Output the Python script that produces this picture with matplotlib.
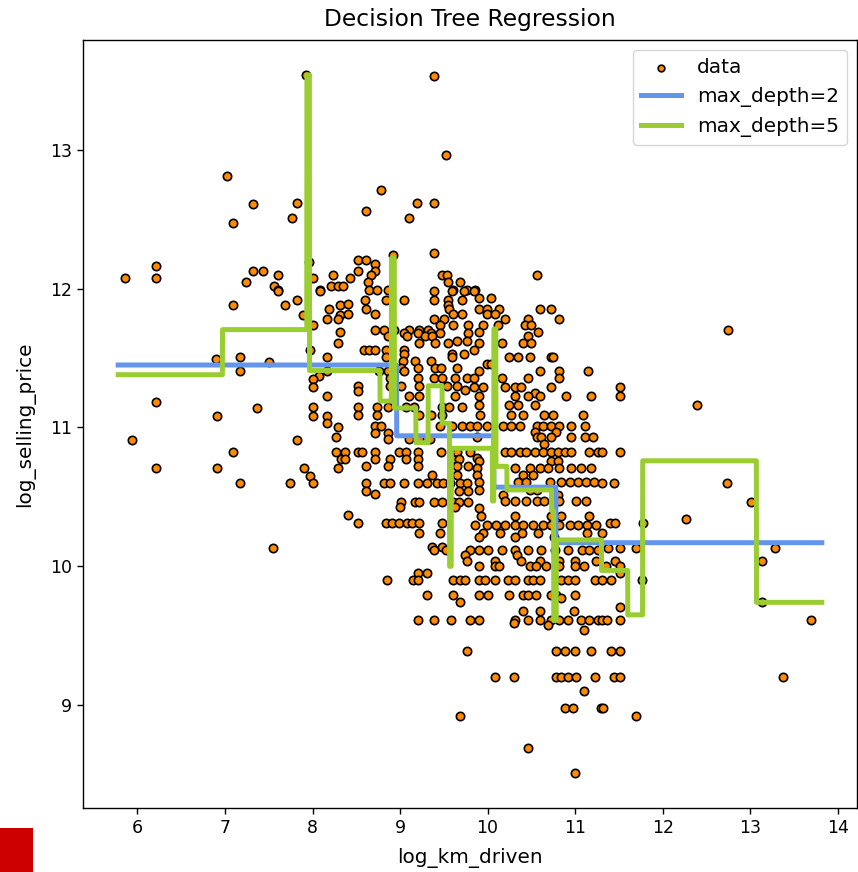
import numpy as np
import matplotlib
matplotlib.use("Agg")
import matplotlib.pyplot as plt
from matplotlib.patches import Rectangle

# scatter data (log km driven, log selling price)
log_km_driven = [
    7.93, 7.02, 7.32, 7.09, 7.82, 7.77, 5.86, 6.21, 6.21, 7.24, 7.32, 7.44, 7.60, 7.56, 7.61, 7.96, 8.01, 8.23, 8.08, 8.21, 8.29,
    7.09, 7.60, 7.69, 7.82, 7.89, 8.08, 8.19, 8.31, 8.31, 8.16, 8.29, 8.01, 8.31, 8.29, 7.97, 8.16, 6.90, 7.17, 7.50, 7.17,
    8.07, 8.16, 8.01, 8.01, 6.21, 7.37, 8.16, 8.01, 6.91, 8.01, 8.16, 8.16, 8.29, 8.27, 5.94, 7.82, 7.09, 8.27, 8.33, 6.21,
    6.91, 7.90, 8.29, 7.97, 7.17, 7.74, 8.01, 7.55,
    9.39, 9.52, 8.78, 8.61, 9.19, 9.39, 9.10, 9.39, 8.92, 8.52, 8.61, 8.71, 8.52, 8.71, 8.67, 8.43, 8.63, 9.48, 9.54, 9.55,
    9.68, 10.57, 8.35, 8.65, 8.74, 8.86, 9.61, 9.76, 9.86,
    9.39, 9.59, 9.73, 8.60, 8.84, 9.04, 9.39, 9.55, 9.71, 8.40, 9.55, 8.61, 9.56, 8.40, 8.71, 9.61, 9.71, 9.39, 9.50, 9.46,
    9.61, 9.78, 8.71, 8.82, 8.93, 9.10, 9.22, 9.32, 9.05, 9.21, 9.35, 9.46, 9.78, 8.86, 9.08, 9.28, 9.37, 9.65, 9.76, 9.22,
    9.40, 9.55, 8.59, 8.65, 8.71, 8.84, 9.05, 9.05, 9.59, 9.73, 8.84, 9.59, 9.03, 9.17, 9.35, 9.01, 9.21, 9.40, 9.47, 9.65,
    8.76, 8.86, 9.04, 8.88, 9.21, 9.39, 9.48, 9.63, 9.76, 8.52, 8.88, 9.01, 9.22, 9.54, 9.65, 8.52, 9.74, 9.10, 9.22, 9.63,
    8.52, 8.74, 8.86, 9.07, 9.16, 9.48, 9.56, 9.71, 8.52, 8.74, 9.22, 9.35, 9.48,
    9.85, 9.90, 10.04, 9.90, 9.99, 10.13, 10.60, 10.72, 9.99, 10.08, 10.20, 10.46, 10.81, 9.95, 10.12, 10.43, 10.50, 9.90,
    10.58, 10.46, 9.90, 10.16, 10.41, 10.50, 9.84, 10.24, 10.35, 10.49, 10.72, 10.75, 9.99, 10.04, 9.90, 10.60, 10.81, 11.15,
    9.84, 10.17, 10.46, 10.82, 9.84, 9.95, 10.20, 10.31, 10.38, 10.73, 10.54, 9.90, 10.31, 10.46, 10.60, 10.90, 11.18, 9.90,
    10.24, 10.35, 10.54, 9.91, 10.27, 10.41, 10.65, 10.75, 11.09,
    8.71, 8.78, 9.46, 9.59, 9.71, 9.80, 8.71, 8.86, 8.86, 9.10, 9.22, 9.34, 8.37, 8.52, 8.57, 8.71, 8.99, 9.07, 9.21, 9.47,
    9.65, 9.80, 8.37, 8.71, 8.88, 9.07, 9.21, 9.59, 9.67, 8.61, 8.86, 9.20, 9.65, 9.78, 9.37, 9.65, 8.61, 8.82, 8.89, 9.05,
    9.20, 9.31, 9.42, 9.49, 9.57, 9.69, 9.77, 8.61, 9.67, 9.78, 8.71, 9.01, 9.17, 9.22, 9.39, 9.48, 9.61, 9.67, 9.78, 9.00,
    9.63, 8.40, 8.52, 8.84, 8.91, 8.99, 9.08, 9.14, 9.22, 9.48, 9.22, 9.46, 9.37, 9.48,
    9.88, 9.99, 10.18, 10.27, 10.37, 10.56, 10.63, 10.73, 10.82, 10.95, 11.11, 10.54, 10.78, 9.88, 10.56, 10.61, 10.73, 10.95,
    11.11, 11.20, 10.65, 10.20, 10.27, 10.37, 10.44, 10.54, 10.63, 10.73, 10.80, 10.88, 10.95, 11.16, 11.26, 9.88, 9.90, 10.73,
    10.80, 9.88, 10.31, 10.48, 10.60, 10.69, 10.82, 10.95, 11.07, 11.18, 9.88, 10.41, 10.52, 9.90, 10.35, 10.44, 10.71, 10.84,
    10.94, 11.03, 11.12, 11.22, 9.90, 10.48, 10.56, 10.18, 10.80, 10.20, 10.31, 10.44, 10.56, 10.65, 10.82, 11.01, 11.12, 9.90,
    9.93, 10.31, 10.73, 10.84, 11.16, 9.86, 9.99, 10.10, 10.20, 10.31, 10.41, 10.52, 10.63, 10.73, 10.82, 10.94, 11.03, 11.14,
    11.24, 9.95, 10.14, 10.39, 10.58, 11.14, 9.90, 10.31, 10.76,
    9.39, 9.52, 9.80, 9.90, 10.00, 10.16, 10.31, 10.46, 10.61, 10.77, 10.92, 11.08, 11.16, 11.26, 9.74, 10.34, 9.76, 10.08,
    10.38, 10.60, 10.82, 11.00, 11.24, 9.90, 10.08, 10.13, 10.49, 10.55, 10.67, 10.82, 11.00, 11.10, 9.21, 9.31, 8.85, 9.15,
    9.21, 9.61, 9.68, 9.74, 9.90, 9.97, 10.08, 10.23, 10.31, 10.46, 10.52, 10.60, 10.84, 10.92, 11.00, 11.23, 9.31, 9.61,
    9.90, 10.00, 10.24, 10.41, 10.46, 10.55, 10.72, 10.78, 11.00, 9.68, 10.84, 10.41, 10.60, 10.99, 9.21, 9.39, 9.58, 9.80,
    9.90, 10.31, 10.46, 10.60, 10.73, 10.82, 10.92, 11.07, 11.16, 11.26, 10.30, 10.69, 11.10, 9.77, 10.78, 10.88, 11.00, 11.18,
    10.08, 10.30, 10.78, 10.84, 10.92, 11.01, 11.23, 11.10, 10.88, 10.97, 11.29, 9.68, 10.46, 11.00,
    12.75, 11.51, 11.51, 12.39, 11.31, 11.51, 11.31, 11.44, 12.73, 13.01, 12.27, 11.40, 11.45, 11.77, 11.31, 11.37, 11.51,
    11.69, 13.28, 13.13, 11.46, 11.35, 11.51, 11.51, 11.31, 11.41, 11.76, 11.51, 11.31, 11.36, 11.51, 13.13, 13.69, 11.41,
    11.51, 11.44, 11.51, 13.38, 11.32, 11.69,
]
log_selling_price = [
    13.54, 12.81, 12.61, 12.47, 12.62, 12.51, 12.08, 12.16, 12.08, 12.05, 12.13, 12.13, 12.10, 12.02, 11.99, 12.19, 12.08, 12.10, 11.99, 12.02, 12.02,
    11.88, 11.98, 11.88, 11.92, 11.81, 11.98, 11.85, 11.88, 11.81, 11.78, 11.78, 11.74, 11.69, 11.61, 11.56, 11.51, 11.49, 11.51, 11.47, 11.41,
    11.37, 11.41, 11.35, 11.29, 11.18, 11.14, 11.23, 11.15, 11.08, 11.08, 11.08, 11.03, 11.00, 10.93, 10.91, 10.91, 10.82, 10.82, 10.77, 10.71,
    10.71, 10.71, 10.71, 10.65, 10.60, 10.60, 10.60, 10.13,
    13.53, 12.96, 12.71, 12.56, 12.62, 12.62, 12.51, 12.26, 12.24, 12.21, 12.21, 12.18, 12.13, 12.13, 12.10, 12.08, 12.05, 12.10, 12.10, 12.05,
    12.05, 12.10, 12.02, 11.99, 11.99, 11.99, 11.99, 11.99, 11.99,
    11.98, 11.98, 11.98, 11.92, 11.92, 11.92, 11.92, 11.92, 11.92, 11.89, 11.88, 11.85, 11.85, 11.82, 11.82, 11.82, 11.82, 11.78, 11.78, 11.74,
    11.74, 11.74, 11.70, 11.70, 11.70, 11.70, 11.70, 11.70, 11.68, 11.68, 11.68, 11.68, 11.68, 11.66, 11.66, 11.66, 11.66, 11.62, 11.62, 11.61,
    11.61, 11.61, 11.56, 11.56, 11.56, 11.56, 11.56, 11.53, 11.53, 11.53, 11.51, 11.51, 11.48, 11.48, 11.48, 11.43, 11.43, 11.43, 11.43, 11.43,
    11.41, 11.41, 11.41, 11.36, 11.36, 11.36, 11.36, 11.36, 11.36, 11.30, 11.30, 11.30, 11.30, 11.30, 11.30, 11.26, 11.27, 11.23, 11.23, 11.23,
    11.15, 11.15, 11.15, 11.15, 11.15, 11.15, 11.15, 11.15, 11.09, 11.09, 11.09, 11.09, 11.09,
    11.98, 11.93, 11.93, 11.85, 11.85, 11.85, 11.85, 11.85, 11.82, 11.82, 11.78, 11.78, 11.78, 11.74, 11.74, 11.74, 11.74, 11.69,
    11.69, 11.66, 11.61, 11.61, 11.61, 11.61, 11.56, 11.51, 11.51, 11.51, 11.51, 11.51, 11.46, 11.46, 11.41, 11.41, 11.41, 11.41,
    11.36, 11.36, 11.36, 11.36, 11.29, 11.29, 11.29, 11.29, 11.29, 11.29, 11.25, 11.23, 11.23, 11.23, 11.23, 11.23, 11.23, 11.16,
    11.16, 11.16, 11.16, 11.09, 11.09, 11.09, 11.09, 11.09, 11.09,
    11.01, 11.01, 11.01, 11.01, 11.01, 11.01, 10.96, 10.96, 10.92, 10.92, 10.92, 10.92, 10.82, 10.82, 10.82, 10.82, 10.82, 10.82, 10.82, 10.82,
    10.82, 10.82, 10.77, 10.77, 10.77, 10.77, 10.77, 10.77, 10.77, 10.72, 10.72, 10.72, 10.72, 10.72, 10.66, 10.66, 10.60, 10.60, 10.60, 10.60,
    10.60, 10.60, 10.60, 10.60, 10.60, 10.60, 10.60, 10.54, 10.54, 10.54, 10.52, 10.46, 10.46, 10.46, 10.46, 10.46, 10.46, 10.46, 10.46, 10.43,
    10.43, 10.37, 10.31, 10.31, 10.31, 10.31, 10.31, 10.31, 10.31, 10.31, 10.24, 10.24, 10.14, 10.14,
    11.01, 11.01, 11.01, 11.01, 11.01, 11.01, 11.01, 11.01, 11.01, 11.01, 11.01, 10.97, 10.97, 10.93, 10.93, 10.93, 10.93, 10.93,
    10.93, 10.93, 10.88, 10.82, 10.82, 10.82, 10.82, 10.82, 10.82, 10.82, 10.82, 10.82, 10.82, 10.82, 10.82, 10.78, 10.76, 10.76,
    10.76, 10.71, 10.71, 10.71, 10.71, 10.71, 10.71, 10.71, 10.71, 10.71, 10.66, 10.66, 10.66, 10.61, 10.61, 10.61, 10.61, 10.61,
    10.61, 10.61, 10.61, 10.61, 10.55, 10.55, 10.55, 10.51, 10.51, 10.47, 10.47, 10.47, 10.47, 10.47, 10.47, 10.47, 10.47, 10.42,
    10.36, 10.36, 10.36, 10.36, 10.36, 10.30, 10.30, 10.30, 10.30, 10.30, 10.30, 10.30, 10.30, 10.30, 10.30, 10.30, 10.30, 10.30,
    10.30, 10.24, 10.24, 10.24, 10.24, 10.24, 10.21, 10.21, 10.21,
    10.12, 10.12, 10.12, 10.12, 10.12, 10.12, 10.12, 10.12, 10.12, 10.12, 10.12, 10.12, 10.12, 10.12, 10.08, 10.08, 10.04, 10.04,
    10.04, 10.04, 10.04, 10.04, 10.04, 10.00, 10.00, 10.00, 10.00, 10.00, 10.00, 10.00, 10.00, 10.00, 9.95, 9.95, 9.90, 9.90,
    9.90, 9.90, 9.90, 9.90, 9.90, 9.90, 9.90, 9.90, 9.90, 9.90, 9.90, 9.90, 9.90, 9.90, 9.90, 9.90, 9.79, 9.79,
    9.79, 9.79, 9.79, 9.79, 9.79, 9.79, 9.79, 9.79, 9.79, 9.74, 9.77, 9.68, 9.68, 9.68, 9.61, 9.61, 9.61, 9.61,
    9.61, 9.61, 9.61, 9.61, 9.61, 9.61, 9.61, 9.61, 9.61, 9.61, 9.59, 9.58, 9.54, 9.39, 9.39, 9.39, 9.39, 9.39,
    9.20, 9.20, 9.20, 9.20, 9.20, 9.20, 9.20, 9.10, 8.98, 8.98, 8.98, 8.92, 8.69, 8.51,
    11.70, 11.29, 11.23, 11.16, 10.82, 10.82, 10.60, 10.60, 10.60, 10.46, 10.34, 10.31, 10.31, 10.31, 10.24, 10.13, 10.13,
    10.13, 10.13, 10.04, 10.04, 10.00, 10.00, 9.95, 9.90, 9.90, 9.90, 9.71, 9.61, 9.61, 9.61, 9.74, 9.61, 9.39,
    9.39, 9.20, 9.20, 9.20, 8.98, 8.92,
]

# fitted step functions: split thresholds and leaf values
depth2_splits = [8.96, 10.07, 10.78]
depth2_values = [11.45, 10.94, 10.57, 10.17]
depth5_splits = [6.97, 7.935, 7.965, 8.77, 8.90, 8.935, 9.18, 9.32, 9.48, 9.565, 9.585,
                 10.055, 10.07, 10.095, 10.22, 10.73, 10.755, 10.785, 11.30, 11.60, 11.77, 13.07]
depth5_values = [11.38, 11.705, 13.54, 11.41, 11.19, 12.22, 11.14, 10.89, 11.30, 11.03, 10.0,
                 10.85, 10.47, 11.71, 10.72, 10.55, 10.40, 9.61, 10.19, 9.97, 9.65, 10.76, 9.74]

X_test = np.arange(5.78, 13.82, 0.002)
y_1 = np.array(depth2_values)[np.searchsorted(depth2_splits, X_test, side="right")]
y_2 = np.array(depth5_values)[np.searchsorted(depth5_splits, X_test, side="right")]

fig = plt.figure(figsize=(8.58, 8.72), dpi=100)
ax = fig.add_axes([83 / 858, 64 / 872, 774 / 858, 768 / 872])

ax.scatter(log_km_driven, log_selling_price, s=36, edgecolor="black", linewidths=1.2,
           c="darkorange", label="data", zorder=2)
ax.plot(X_test, y_1, color="cornflowerblue", label="max_depth=2", linewidth=3.6, zorder=3)
ax.plot(X_test, y_2, color="yellowgreen", label="max_depth=5", linewidth=3.6, zorder=4)

ax.set_xlabel("log_km_driven", fontsize=14.4, labelpad=8)
ax.set_ylabel("log_selling_price", fontsize=14.4, labelpad=11)
ax.set_title("Decision Tree Regression", fontsize=16.8, pad=10)
ax.tick_params(labelsize=12.5, length=4.2, width=1)
for sp in ax.spines.values():
    sp.set_linewidth(1)
ax.legend(fontsize=14.4, loc="upper right", markerscale=0.8)

# red marker block in the bottom-left corner of the figure
fig.add_artist(Rectangle((0, 0), 33 / 858, 44 / 872, transform=fig.transFigure,
                         facecolor="#cc0000", edgecolor="none"))

fig.savefig("out.png", dpi=100)
